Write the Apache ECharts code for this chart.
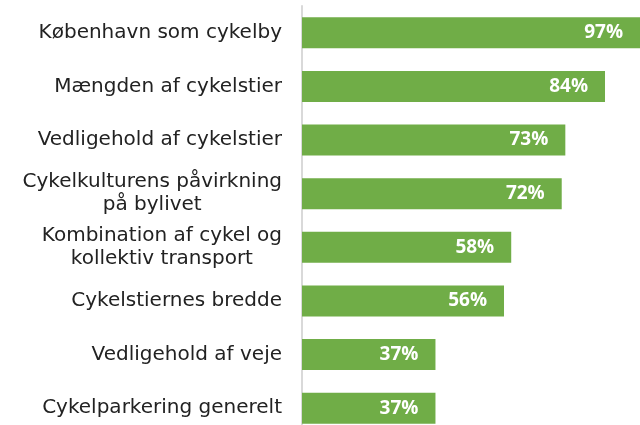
<!DOCTYPE html>
<html>
<head>
<meta charset="utf-8">
<script src="https://cdn.jsdelivr.net/npm/echarts@6/dist/echarts.min.js"></script>
<style>
  html, body { margin: 0; padding: 0; background: #fff; }
  #chart { width: 640px; height: 425px; }
</style>
</head>
<body>
<div id="chart"></div>
<script>
// kategorier (øverst først) og andele i procent
var categories = [
    'København som cykelby',
    'Mængden af cykelstier',
    'Vedligehold af cykelstier',
    'Cykelkulturens påvirkning\npå bylivet',
    'Kombination af cykel og\nkollektiv transport',
    'Cykelstiernes bredde',
    'Vedligehold af veje',
    'Cykelparkering generelt'
];
var values = [97, 84, 73, 72, 58, 56, 37, 37];

var chart = echarts.init(document.getElementById('chart'));

var option = {
    animation: false,
    grid: {
        left: 302,
        right: 0,
        top: 6,
        height: 429,
        outerBoundsMode: 'none',
        containLabel: false
    },
    xAxis: {
        type: 'value',
        min: 0,
        max: 93.7,  // grafen er beskåret i højre side
        show: false
    },
    yAxis: {
        type: 'category',
        data: categories,
        inverse: true,
        axisLine: { show: true, lineStyle: { color: '#d9d9d9', width: 2 } },
        axisTick: { show: false },
        axisLabel: {
            margin: 20,
            formatter: function (v) {
                return v.split('\n').map(function (s) { return '{c|' + s + '}'; }).join('\n');
            },
            rich: {
                c: {
                    align: 'center',
                    fontFamily: 'DejaVu Sans',
                    fontSize: 20,
                    color: '#222222',
                    lineHeight: 23
                }
            }
        }
    },
    series: [
        {
            type: 'bar',
            data: values,
            barWidth: 31,
            clip: true,
            itemStyle: { color: '#70ad47' },
            label: {
                show: true,
                position: 'insideRight',
                distance: 17,
                formatter: '{c}%',
                color: '#ffffff',
                fontFamily: 'Open Sans',
                fontWeight: 'bold',
                fontSize: 19
            }
        }
    ]
};

chart.setOption(option);
</script>
</body>
</html>
